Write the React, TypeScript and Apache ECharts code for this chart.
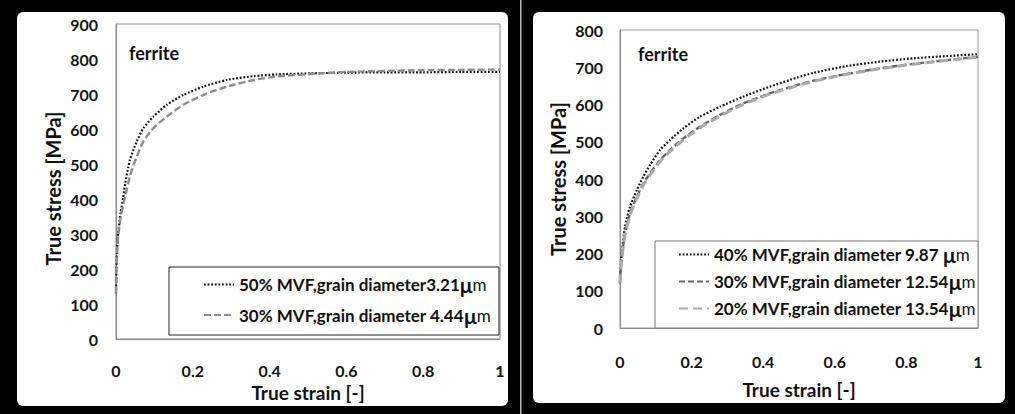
import React, { useEffect, useRef } from "react";
import * as echarts from "echarts";

// ---- data ----
const xTicksLeft = [0, 0.2, 0.4, 0.6, 0.8, 1];
const yMaxLeft = 900;
const yMaxRight = 800;

const nameL50 = "50% MVF,grain diameter3.21μm";
const nameL30 = "30% MVF,grain diameter 4.44μm";
const nameR40 = "40% MVF,grain diameter 9.87 μm";
const nameR30 = "30% MVF,grain diameter 12.54μm";
const nameR20 = "20% MVF,grain diameter 13.54μm";

const left50 = [
  [0, 130], [0.001, 200], [0.003, 262], [0.006, 305], [0.012, 360], [0.019, 405],
  [0.024, 445], [0.032, 491], [0.036, 511], [0.045, 540], [0.054, 564], [0.071, 602],
  [0.097, 635], [0.132, 669], [0.175, 697], [0.227, 721], [0.288, 740], [0.358, 751],
  [0.418, 756], [0.505, 759], [0.6, 761], [0.7, 762], [0.8, 762], [0.9, 763], [1.0, 763],
];
const left30 = [
  [0, 130], [0.001, 195], [0.003, 252], [0.006, 298], [0.012, 348], [0.019, 385],
  [0.024, 407], [0.036, 464], [0.045, 495], [0.054, 521], [0.071, 564], [0.097, 602],
  [0.132, 635], [0.175, 669], [0.227, 697], [0.288, 721], [0.358, 740], [0.418, 750],
  [0.505, 757], [0.6, 763], [0.7, 766], [0.8, 768], [0.9, 769], [1.0, 770],
];
const right40 = [
  [0, 120], [0.002, 170], [0.005, 200], [0.014, 272], [0.028, 326], [0.047, 370],
  [0.065, 406], [0.084, 438], [0.112, 478], [0.14, 505], [0.177, 536], [0.223, 567],
  [0.279, 594], [0.344, 621], [0.419, 648], [0.494, 672], [0.54, 685], [0.633, 703],
  [0.726, 715], [0.819, 724], [0.913, 730], [1.0, 735],
];
const right30 = [
  [0, 120], [0.002, 160], [0.005, 191], [0.014, 254], [0.028, 308], [0.047, 352],
  [0.065, 388], [0.084, 415], [0.112, 451], [0.14, 478], [0.177, 509], [0.223, 540],
  [0.279, 572], [0.344, 603], [0.419, 630], [0.494, 652], [0.54, 664], [0.633, 682],
  [0.726, 697], [0.819, 709], [0.913, 719], [1.0, 728],
];
const right20 = [
  [0, 120], [0.002, 158], [0.005, 188], [0.014, 250], [0.028, 303], [0.047, 347],
  [0.065, 383], [0.084, 411], [0.112, 447], [0.14, 474], [0.177, 505], [0.223, 537],
  [0.279, 569], [0.344, 600], [0.419, 628], [0.494, 650], [0.54, 662], [0.633, 681],
  [0.726, 696], [0.819, 708], [0.913, 718], [1.0, 727],
];

const FONT = "Lato";
const INK = "#111";

function xAxisCfg(gridIndex: number, margin: number, nameGap: number) {
  return {
    gridIndex,
    type: "value",
    min: xTicksLeft[0],
    max: xTicksLeft[xTicksLeft.length - 1],
    interval: 0.2,
    name: "True strain [-]",
    nameLocation: "middle",
    nameGap,
    nameTextStyle: { fontFamily: FONT, fontWeight: "bold", fontSize: 19, color: INK },
    axisLine: { show: true, lineStyle: { color: "#8a8a8a", width: 1 } },
    axisTick: { show: false },
    splitLine: { show: false },
    axisLabel: { margin, fontFamily: FONT, fontWeight: "bold", fontSize: 16, color: INK },
  };
}
function yAxisCfg(gridIndex: number, max: number, margin: number, nameGap: number, namePad: number[]) {
  return {
    gridIndex,
    type: "value",
    min: 0,
    max,
    interval: 100,
    name: "True stress [MPa]",
    nameLocation: "middle",
    nameGap,
    nameTextStyle: { fontFamily: FONT, fontWeight: "bold", fontSize: 20, color: INK, padding: namePad },
    axisLine: { show: true, lineStyle: { color: "#8a8a8a", width: 1 } },
    axisTick: { show: false },
    splitLine: { show: false },
    axisLabel: { margin, fontFamily: FONT, fontWeight: "bold", fontSize: 16, color: INK },
  };
}

const legendText = {
  fontFamily: FONT,
  fontWeight: "bold",
  fontSize: 17,
  color: INK,
  lineHeight: 18,
  rich: {
    mu: { fontFamily: FONT, fontWeight: "bold", fontSize: 21, color: INK, lineHeight: 18 },
    m: { fontFamily: FONT, fontWeight: "normal", fontSize: 17, color: INK, lineHeight: 18 },
  },
};
const legendFormatter = (n: string) => n.replace(/μm$/, "{mu|μ}{m|m}");
const legendItemStyle = { color: "rgba(0,0,0,0)", borderColor: "rgba(0,0,0,0)", borderWidth: 0, opacity: 0 };

function lineSeries(name: string, data: number[][], idx: number, color: string, width: number, dash: number[]) {
  return {
    name,
    type: "line",
    xAxisIndex: idx,
    yAxisIndex: idx,
    data,
    symbol: "none",
    smooth: 0.2,
    lineStyle: { color, width, type: dash },
    itemStyle: { color },
    z: 3,
  };
}

export default function App() {
  const ref = useRef<HTMLDivElement>(null);
  useEffect(() => {
    if (!ref.current) return;
    const chart = echarts.init(ref.current, null, { renderer: "svg" });
    const option = {
      animation: false,
      backgroundColor: "#000",
      graphic: [
        { type: "rect", z: -5, shape: { x: 17, y: 12, width: 491, height: 394, r: 6 }, style: { fill: "#fff" } },
        { type: "rect", z: -5, shape: { x: 533, y: 12, width: 472, height: 391, r: 6 }, style: { fill: "#fff" } },
        { type: "rect", z: -5, shape: { x: 520, y: 0, width: 1.5, height: 414 }, style: { fill: "#bbb" } },
        { type: "rect", z: 1, shape: { x: 169, y: 267, width: 330, height: 68 }, style: { fill: "#fff", stroke: "#222", lineWidth: 1 } },
        { type: "rect", z: 1, shape: { x: 655, y: 241, width: 323, height: 87 }, style: { fill: "#fff", stroke: "#777", lineWidth: 1 } },
        { type: "text", z: 5, style: { x: 129, y: 53, text: "ferrite", fontFamily: FONT, fontWeight: "bold", fontSize: 18, fill: INK, verticalAlign: "middle" } },
        { type: "text", z: 5, style: { x: 638, y: 54, text: "ferrite", fontFamily: FONT, fontWeight: "bold", fontSize: 18, fill: INK, verticalAlign: "middle" } },
      ],
      grid: [
        { left: 116, top: 24, width: 384, height: 315, show: true, borderColor: "#8a8a8a", borderWidth: 1, backgroundColor: "transparent" },
        { left: 620, top: 30, width: 358, height: 298, show: true, borderColor: "#999", borderWidth: 1, backgroundColor: "transparent" },
      ],
      xAxis: [xAxisCfg(0, 23, 36), xAxisCfg(1, 25, 52)],
      yAxis: [yAxisCfg(0, yMaxLeft, 18, 53, [0, 14, 0, 0]), yAxisCfg(1, yMaxRight, 17, 52, [0, 0, 0, 0])],
      legend: [
        {
          data: [nameL50, nameL30],
          orient: "vertical",
          left: 203,
          top: 274,
          padding: 0,
          itemWidth: 30,
          itemHeight: 14,
          itemGap: 9.5,
          selectedMode: false,
          textStyle: legendText,
          formatter: legendFormatter,
          itemStyle: legendItemStyle,
          z: 6,
        },
        {
          data: [nameR40, nameR30, nameR20],
          orient: "vertical",
          left: 678,
          top: 244,
          padding: 0,
          itemWidth: 30,
          itemHeight: 14,
          itemGap: 6,
          selectedMode: false,
          textStyle: legendText,
          formatter: legendFormatter,
          itemStyle: legendItemStyle,
          z: 6,
        },
      ],
      series: [
        lineSeries(nameL50, left50, 0, "#111", 2.2, [1.8, 1.8]),
        lineSeries(nameL30, left30, 0, "#8c8c8c", 2.4, [7, 3]),
        lineSeries(nameR40, right40, 1, "#111", 2.2, [1.8, 1.8]),
        lineSeries(nameR30, right30, 1, "#666", 2.4, [6, 3]),
        lineSeries(nameR20, right20, 1, "#aaa", 3, [9, 5]),
      ],
    };
    chart.setOption(option as any);
    return () => chart.dispose();
  }, []);
  return (
    <div
      ref={ref}
      style={{ position: "absolute", left: 0, top: 0, width: 1015, height: 414 }}
    />
  );
}
